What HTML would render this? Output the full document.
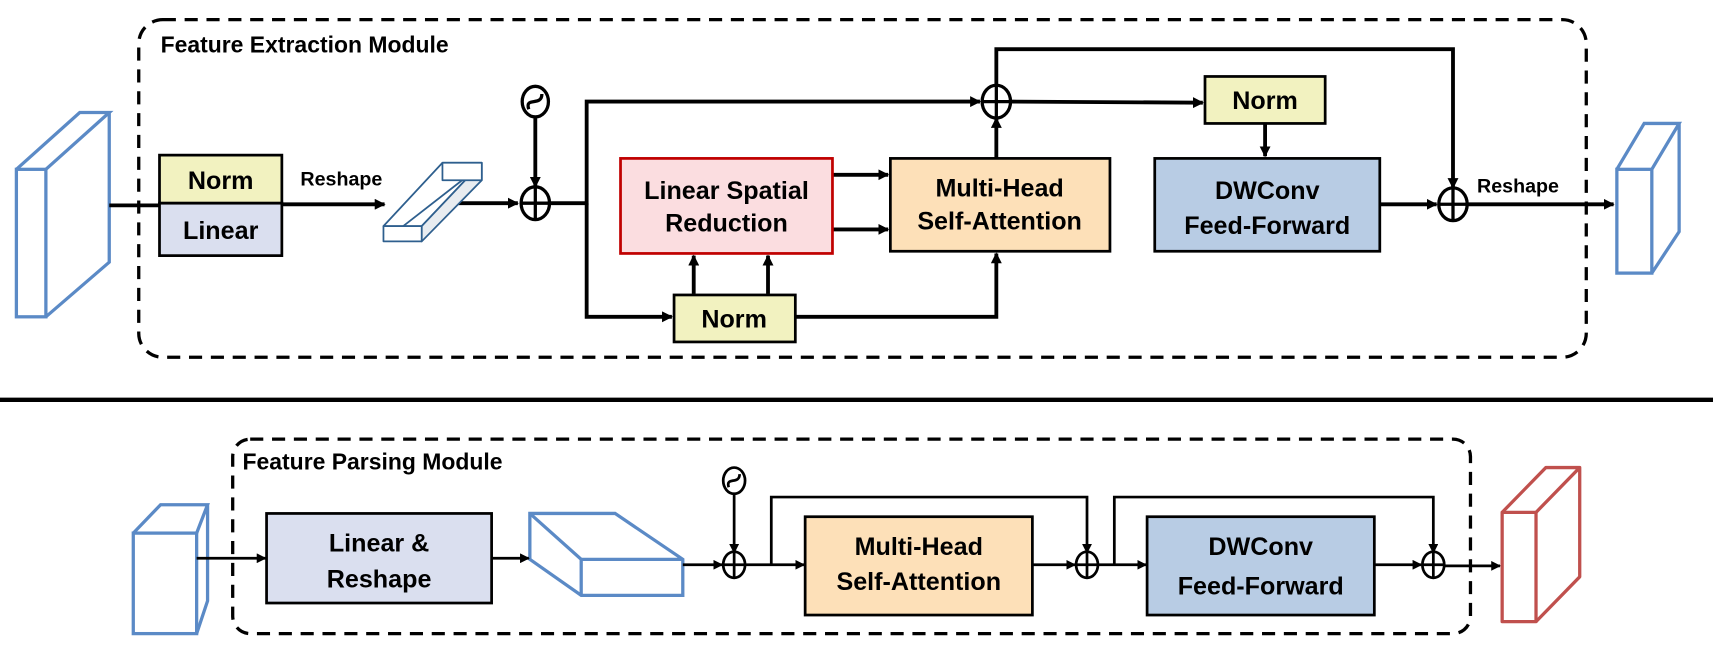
<!DOCTYPE html>
<html><head><style>html,body{margin:0;padding:0;background:#fff}svg{display:block}</style></head>
<body>
<svg width="1713" height="650" viewBox="0 0 1568 595" preserveAspectRatio="none" xmlns="http://www.w3.org/2000/svg" font-family="Liberation Sans, sans-serif" font-weight="bold">
<defs>
<marker id="a" markerWidth="10" markerHeight="10" refX="9" refY="5" orient="auto" markerUnits="userSpaceOnUse"><path d="M0,0 L10,5 L0,10 Z" fill="#000"/></marker>
<marker id="b" markerWidth="9" markerHeight="9" refX="8" refY="4.5" orient="auto" markerUnits="userSpaceOnUse"><path d="M0,0 L9,4.5 L0,9 Z" fill="#000"/></marker>
</defs>
<!-- TOP -->
<rect x="127" y="18" width="1325" height="309" rx="22" fill="none" stroke="#000" stroke-width="3" stroke-dasharray="12,8"/>
<text x="147" y="48" font-size="21">Feature Extraction Module</text>
<g fill="none" stroke="#5b8ac6" stroke-width="3">
<rect x="15" y="155" width="27" height="135"/>
<path d="M15,155 L73,103 L100,103 L42,155 M100,103 L100,240 L42,290"/>
</g>
<g stroke="#000" stroke-width="3.5" fill="none">
<line x1="100" y1="188" x2="146" y2="188"/>
<line x1="258" y1="187" x2="352" y2="187" marker-end="url(#a)"/>
<line x1="419" y1="186" x2="474" y2="186" marker-end="url(#a)"/>
<line x1="490" y1="106" x2="490" y2="171" marker-end="url(#a)"/>
<polyline points="503,186 537,186 537,93 897,93" marker-end="url(#a)"/>
<polyline points="537,186 537,290 615,290" marker-end="url(#a)"/>
<line x1="762" y1="160" x2="813" y2="160" marker-end="url(#a)"/>
<line x1="762" y1="210" x2="813" y2="210" marker-end="url(#a)"/>
<line x1="635" y1="269" x2="635" y2="234" marker-end="url(#a)"/>
<line x1="703" y1="269" x2="703" y2="234" marker-end="url(#a)"/>
<polyline points="728,290 912,290 912,232" marker-end="url(#a)"/>
<line x1="912" y1="145" x2="912" y2="108" marker-end="url(#a)"/>
<line x1="925" y1="93" x2="1101" y2="94" marker-end="url(#a)"/>
<polyline points="912,80 912,45 1330,45 1330,172" marker-end="url(#a)"/>
<line x1="1158" y1="113" x2="1158" y2="143" marker-end="url(#a)"/>
<line x1="1263" y1="187" x2="1315" y2="187" marker-end="url(#a)"/>
<line x1="1343" y1="187" x2="1477" y2="187" marker-end="url(#a)"/>
</g>
<rect x="146" y="142" width="112" height="44" fill="#f2f2c0" stroke="#000" stroke-width="2.5"/>
<rect x="146" y="186" width="112" height="48" fill="#dadfef" stroke="#000" stroke-width="2.5"/>
<text x="202" y="173" font-size="23" text-anchor="middle">Norm</text>
<text x="202" y="219" font-size="23" text-anchor="middle">Linear</text>
<text x="275" y="170" font-size="18">Reshape</text>
<!-- bar -->
<g fill="#fff" stroke="#2e5f8e" stroke-width="1.6" stroke-linejoin="round">
<path d="M351,207 L405,149 L441,149 L386,207 Z"/>
<path d="M386,207 L441,149 L441,165 L386,221 Z" fill="#e8ecf0"/>
<rect x="351" y="207" width="35" height="14"/>
<rect x="405" y="149" width="36" height="16"/>
<line x1="369" y1="207" x2="423" y2="165"/>
</g>
<rect x="568" y="145" width="194" height="87" fill="#fbdde0" stroke="#c00000" stroke-width="2.5"/>
<text x="665" y="182" font-size="23" text-anchor="middle">Linear Spatial</text>
<text x="665" y="212" font-size="23" text-anchor="middle">Reduction</text>
<rect x="617" y="270" width="111" height="43" fill="#f2f2c0" stroke="#000" stroke-width="2.5"/>
<text x="672" y="300" font-size="23" text-anchor="middle">Norm</text>
<rect x="815" y="145" width="201" height="85" fill="#fde0b8" stroke="#000" stroke-width="2.5"/>
<text x="915" y="180" font-size="23" text-anchor="middle">Multi-Head</text>
<text x="915" y="210" font-size="23" text-anchor="middle">Self-Attention</text>
<rect x="1103" y="70" width="110" height="43" fill="#f2f2c0" stroke="#000" stroke-width="2.5"/>
<text x="1158" y="100" font-size="23" text-anchor="middle">Norm</text>
<rect x="1057" y="145" width="206" height="85" fill="#b8cce4" stroke="#000" stroke-width="2.5"/>
<text x="1160" y="182" font-size="23" text-anchor="middle">DWConv</text>
<text x="1160" y="214" font-size="23" text-anchor="middle">Feed-Forward</text>
<text x="1352" y="176" font-size="18">Reshape</text>
<g fill="#fff" stroke="#000" stroke-width="3">
<ellipse cx="490" cy="186" rx="13" ry="15"/><path d="M477,186 H503 M490,171 V201"/>
<ellipse cx="912" cy="93" rx="13" ry="15"/><path d="M899,93 H925 M912,78 V108"/>
<ellipse cx="1330" cy="187" rx="13" ry="15"/><path d="M1317,187 H1343 M1330,172 V202"/>
<ellipse cx="490" cy="93" rx="12" ry="14"/>
</g>
<path d="M484,100 C480,88 496,98 496,86" fill="none" stroke="#000" stroke-width="3"/>
<g fill="none" stroke="#5b8ac6" stroke-width="3">
<rect x="1480" y="155" width="32" height="95"/>
<path d="M1480,155 L1505,113 L1537,113 L1512,155 M1537,113 L1537,212 L1512,250"/>
</g>
<line x1="0" y1="366" x2="1568" y2="366" stroke="#000" stroke-width="4"/>
<!-- BOTTOM -->
<rect x="213" y="402" width="1133" height="178" rx="16" fill="none" stroke="#000" stroke-width="3" stroke-dasharray="12,8"/>
<text x="222" y="430" font-size="21">Feature Parsing Module</text>
<g fill="none" stroke="#5b8ac6" stroke-width="3">
<rect x="122" y="488" width="58" height="92"/>
<path d="M122,488 L147,462 L190,462 L180,488 M190,462 L190,550 L180,580"/>
<path d="M485,470 L563,470 L625,512 L625,545 L532,545 L485,512 Z M485,470 L532,512 L625,512 M532,512 L532,545"/>
</g>
<g fill="none" stroke="#c0504d" stroke-width="3" stroke-linejoin="round">
<rect x="1375" y="469" width="31" height="100"/>
<path d="M1375,469 L1415,428 L1446,428 L1406,469 M1446,428 L1446,528 L1406,569"/>
</g>
<g stroke="#000" stroke-width="2.5" fill="none">
<line x1="180" y1="511" x2="243" y2="511" marker-end="url(#b)"/>
<line x1="450" y1="511" x2="484" y2="511" marker-end="url(#b)"/>
<line x1="625" y1="517" x2="661" y2="517" marker-end="url(#b)"/>
<line x1="672" y1="451" x2="672" y2="506" marker-end="url(#b)"/>
<line x1="682" y1="517" x2="736" y2="517" marker-end="url(#b)"/>
<polyline points="706,517 706,455 995,455 995,506" marker-end="url(#b)"/>
<line x1="945" y1="517" x2="984" y2="517" marker-end="url(#b)"/>
<line x1="1005" y1="517" x2="1049" y2="517" marker-end="url(#b)"/>
<polyline points="1020,517 1020,455 1312,455 1312,506" marker-end="url(#b)"/>
<line x1="1258" y1="517" x2="1301" y2="517" marker-end="url(#b)"/>
<line x1="1322" y1="518" x2="1373" y2="518" marker-end="url(#b)"/>
</g>
<rect x="244" y="470" width="206" height="82" fill="#dadfef" stroke="#000" stroke-width="2.5"/>
<text x="347" y="505" font-size="23" text-anchor="middle">Linear &amp;</text>
<text x="347" y="538" font-size="23" text-anchor="middle">Reshape</text>
<rect x="737" y="473" width="208" height="90" fill="#fde0b8" stroke="#000" stroke-width="2.5"/>
<text x="841" y="508" font-size="23" text-anchor="middle">Multi-Head</text>
<text x="841" y="540" font-size="23" text-anchor="middle">Self-Attention</text>
<rect x="1050" y="473" width="208" height="90" fill="#b8cce4" stroke="#000" stroke-width="2.5"/>
<text x="1154" y="508" font-size="23" text-anchor="middle">DWConv</text>
<text x="1154" y="544" font-size="23" text-anchor="middle">Feed-Forward</text>
<g fill="#fff" stroke="#000" stroke-width="2.5">
<ellipse cx="672" cy="517" rx="10" ry="12"/><path d="M662,517 H682 M672,505 V529"/>
<ellipse cx="995" cy="517" rx="10" ry="12"/><path d="M985,517 H1005 M995,505 V529"/>
<ellipse cx="1312" cy="517" rx="10" ry="12"/><path d="M1302,517 H1322 M1312,505 V529"/>
<ellipse cx="672" cy="440" rx="10" ry="12"/>
</g>
<path d="M667,446 C664,436 677,444 677,434" fill="none" stroke="#000" stroke-width="2.5"/>
</svg>
</body></html>
